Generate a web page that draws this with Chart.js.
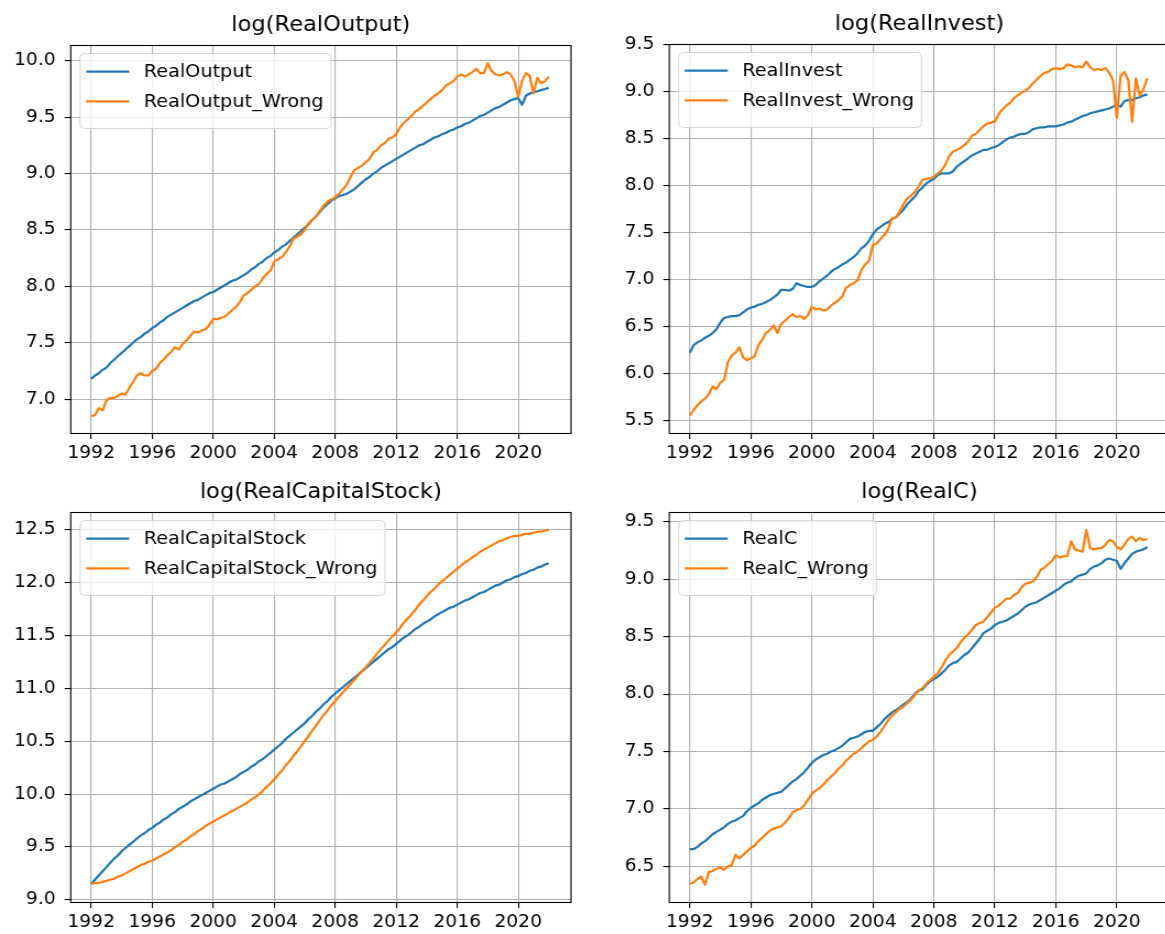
<!DOCTYPE html>
<html><head><meta charset="utf-8">
<script src="https://cdn.jsdelivr.net/npm/chart.js@4.4.1/dist/chart.umd.min.js"></script>
<style>
html,body{margin:0;padding:0;background:#fff;overflow:hidden;width:1165px;height:934px;position:relative;}
.p{position:absolute;transform-origin:0 0;transform:scaleX(1.1);}
canvas{display:block;}
</style></head><body>
<div class="p" style="left:0;top:0"><canvas id="c1" width="537" height="467"></canvas></div>
<div class="p" style="left:590px;top:0"><canvas id="c2" width="545" height="467"></canvas></div>
<div class="p" style="left:0;top:467px"><canvas id="c3" width="537" height="467"></canvas></div>
<div class="p" style="left:590px;top:467px"><canvas id="c4" width="545" height="467"></canvas></div>
<script>
// ---- data (quarterly, decimal years) ----
const dates = [
1992,1992.25,1992.5,1992.75,1993,1993.25,1993.5,1993.75,1994,1994.25,1994.5,1994.75,
1995,1995.25,1995.5,1995.75,1996,1996.25,1996.5,1996.75,1997,1997.25,1997.5,1997.75,
1998,1998.25,1998.5,1998.75,1999,1999.25,1999.5,1999.75,2000,2000.25,2000.5,2000.75,
2001,2001.25,2001.5,2001.75,2002,2002.25,2002.5,2002.75,2003,2003.25,2003.5,2003.75,
2004,2004.25,2004.5,2004.75,2005,2005.25,2005.5,2005.75,2006,2006.25,2006.5,2006.75,
2007,2007.25,2007.5,2007.75,2008,2008.25,2008.5,2008.75,2009,2009.25,2009.5,2009.75,
2010,2010.25,2010.5,2010.75,2011,2011.25,2011.5,2011.75,2012,2012.25,2012.5,2012.75,
2013,2013.25,2013.5,2013.75,2014,2014.25,2014.5,2014.75,2015,2015.25,2015.5,2015.75,
2016,2016.25,2016.5,2016.75,2017,2017.25,2017.5,2017.75,2018,2018.25,2018.5,2018.75,
2019,2019.25,2019.5,2019.75,2020,2020.25,2020.5,2020.75,2021,2021.25,2021.5,2021.75,
2022];

const realOutput = [
7.18,7.21,7.23,7.26, 7.28,7.32,7.35,7.38, 7.41,7.44,7.47,7.50, 7.53,7.55,7.58,7.60,
7.63,7.65,7.68,7.70, 7.73,7.75,7.77,7.79, 7.81,7.83,7.85,7.87, 7.88,7.90,7.92,7.94,
7.95,7.97,7.99,8.01, 8.03,8.05,8.06,8.08, 8.10,8.12,8.15,8.17, 8.20,8.22,8.25,8.27,
8.30,8.32,8.35,8.37, 8.40,8.43,8.46,8.49, 8.52,8.55,8.59,8.62, 8.66,8.70,8.73,8.76,
8.78,8.80,8.81,8.82, 8.84,8.86,8.89,8.92, 8.95,8.97,9.00,9.02, 9.05,9.07,9.09,9.11,
9.13,9.15,9.17,9.19, 9.21,9.23,9.25,9.26, 9.28,9.30,9.32,9.33, 9.35,9.36,9.38,9.39,
9.41,9.42,9.44,9.45, 9.47,9.49,9.51,9.52, 9.54,9.56,9.58,9.59, 9.61,9.63,9.65,9.66,
9.67,9.61,9.69,9.71, 9.72,9.73,9.74,9.75, 9.76];
const realOutputWrong = [
6.85,6.86,6.92,6.90, 6.99,7.01,7.01,7.03, 7.05,7.04,7.10,7.15, 7.21,7.23,7.21,7.21,
7.25,7.27,7.32,7.35, 7.39,7.42,7.46,7.44, 7.49,7.52,7.56,7.60, 7.59,7.61,7.62,7.66,
7.71,7.71,7.72,7.73, 7.76,7.79,7.82,7.86, 7.92,7.94,7.97,8.00, 8.02,8.07,8.11,8.14,
8.22,8.24,8.26,8.30, 8.35,8.42,8.44,8.46, 8.50,8.56,8.59,8.62, 8.67,8.72,8.75,8.77,
8.79,8.82,8.86,8.90, 8.97,9.03,9.05,9.07, 9.10,9.13,9.19,9.21, 9.25,9.27,9.31,9.32,
9.35,9.41,9.45,9.48, 9.51,9.55,9.57,9.60, 9.63,9.66,9.69,9.71, 9.74,9.78,9.80,9.82,
9.86,9.88,9.86,9.88, 9.90,9.93,9.89,9.89, 9.98,9.91,9.88,9.87, 9.88,9.90,9.88,9.82,
9.68,9.82,9.89,9.87, 9.71,9.85,9.80,9.82, 9.86];

const realInvest = [
6.22,6.30,6.33,6.35, 6.38,6.40,6.43,6.47, 6.54,6.59,6.60,6.61, 6.61,6.62,6.65,6.68,
6.70,6.71,6.73,6.74, 6.76,6.78,6.81,6.84, 6.89,6.89,6.88,6.90, 6.96,6.94,6.93,6.92,
6.92,6.94,6.98,7.01, 7.04,7.08,7.11,7.13, 7.16,7.18,7.21,7.24, 7.28,7.33,7.36,7.41,
7.48,7.53,7.56,7.59, 7.61,7.64,7.66,7.70, 7.74,7.80,7.84,7.88, 7.94,7.98,8.02,8.05,
8.07,8.11,8.13,8.13, 8.13,8.15,8.20,8.23, 8.26,8.29,8.32,8.34, 8.36,8.38,8.38,8.40,
8.41,8.43,8.46,8.49, 8.51,8.52,8.54,8.55, 8.55,8.57,8.60,8.61, 8.62,8.62,8.63,8.63,
8.63,8.64,8.65,8.67, 8.68,8.70,8.72,8.74, 8.75,8.77,8.78,8.79, 8.80,8.81,8.82,8.84,
8.86,8.84,8.90,8.91, 8.91,8.93,8.94,8.96, 8.97];
const realInvestWrong = [
5.55,5.61,5.66,5.70, 5.73,5.78,5.86,5.83, 5.90,5.93,6.12,6.19, 6.22,6.28,6.17,6.14,
6.16,6.18,6.30,6.36, 6.43,6.46,6.51,6.43, 6.53,6.56,6.60,6.63, 6.60,6.61,6.58,6.62,
6.71,6.68,6.69,6.67, 6.68,6.72,6.75,6.78, 6.82,6.91,6.94,6.96, 6.99,7.10,7.16,7.20,
7.37,7.38,7.43,7.47, 7.53,7.65,7.66,7.72, 7.80,7.86,7.89,7.93, 7.99,8.06,8.07,8.08,
8.09,8.13,8.16,8.22, 8.31,8.36,8.38,8.40, 8.43,8.47,8.53,8.55, 8.59,8.63,8.66,8.67,
8.68,8.76,8.81,8.85, 8.88,8.93,8.96,8.99, 9.01,9.04,9.09,9.13, 9.17,9.20,9.21,9.24,
9.25,9.24,9.25,9.29, 9.28,9.26,9.27,9.26, 9.32,9.26,9.23,9.24, 9.23,9.25,9.20,9.12,
8.72,9.17,9.21,9.12, 8.68,9.14,8.96,9.03, 9.14];

const realCapitalStock = [
9.15,9.19,9.23,9.27, 9.31,9.35,9.39,9.42, 9.46,9.49,9.52,9.55, 9.58,9.61,9.63,9.66,
9.68,9.71,9.73,9.76, 9.78,9.81,9.83,9.86, 9.88,9.90,9.93,9.95, 9.97,9.99,10.01,10.03,
10.05,10.07,10.09,10.10, 10.12,10.14,10.16,10.19, 10.21,10.23,10.26,10.28, 10.31,10.33,10.36,10.39,
10.42,10.45,10.48,10.52, 10.55,10.58,10.61,10.64, 10.67,10.71,10.74,10.78, 10.81,10.85,10.88,10.92,
10.95,10.98,11.01,11.04, 11.07,11.10,11.13,11.16, 11.19,11.22,11.25,11.28, 11.31,11.34,11.37,11.39,
11.42,11.45,11.48,11.50, 11.53,11.56,11.58,11.61, 11.63,11.65,11.68,11.70, 11.72,11.74,11.76,11.77,
11.79,11.81,11.83,11.84, 11.86,11.88,11.90,11.91, 11.93,11.95,11.97,11.98, 12.00,12.02,12.03,12.05,
12.06,12.08,12.09,12.11, 12.12,12.14,12.15,12.17, 12.18];
const realCapitalStockWrong = [
9.15,9.16,9.16,9.17, 9.18,9.19,9.20,9.22, 9.23,9.25,9.27,9.29, 9.31,9.33,9.34,9.36,
9.37,9.39,9.41,9.43, 9.45,9.47,9.50,9.52, 9.55,9.57,9.60,9.62, 9.65,9.67,9.70,9.72,
9.74,9.76,9.78,9.80, 9.82,9.84,9.86,9.88, 9.90,9.92,9.95,9.97, 10.00,10.03,10.07,10.10,
10.14,10.18,10.22,10.27, 10.31,10.36,10.40,10.45, 10.50,10.55,10.60,10.65, 10.70,10.75,10.79,10.84,
10.88,10.92,10.96,11.00, 11.04,11.08,11.12,11.16, 11.20,11.24,11.28,11.33, 11.37,11.41,11.45,11.49,
11.53,11.57,11.62,11.66, 11.70,11.74,11.79,11.83, 11.87,11.91,11.94,11.98, 12.01,12.04,12.07,12.10,
12.13,12.16,12.19,12.21, 12.24,12.26,12.29,12.31, 12.33,12.35,12.37,12.39, 12.40,12.42,12.43,12.44,
12.44,12.45,12.46,12.46, 12.47,12.48,12.48,12.49, 12.50];

const realC = [
6.65,6.65,6.67,6.70, 6.72,6.75,6.78,6.80, 6.82,6.84,6.87,6.89, 6.90,6.92,6.94,6.98,
7.01,7.03,7.05,7.08, 7.10,7.12,7.13,7.14, 7.15,7.18,7.21,7.24, 7.26,7.29,7.32,7.36,
7.40,7.43,7.45,7.47, 7.48,7.50,7.51,7.53, 7.55,7.58,7.61,7.62, 7.63,7.65,7.67,7.68,
7.68,7.71,7.74,7.78, 7.81,7.84,7.86,7.88, 7.91,7.93,7.96,8.00, 8.03,8.04,8.08,8.11,
8.13,8.15,8.18,8.21, 8.25,8.27,8.28,8.31, 8.34,8.36,8.40,8.44, 8.48,8.53,8.55,8.57,
8.60,8.62,8.63,8.64, 8.66,8.68,8.70,8.73, 8.76,8.78,8.79,8.80, 8.82,8.84,8.86,8.88,
8.90,8.92,8.95,8.97, 8.98,9.01,9.03,9.04, 9.05,9.09,9.11,9.12, 9.14,9.17,9.18,9.17,
9.16,9.09,9.14,9.18, 9.22,9.24,9.25,9.26, 9.28];
const realCWrong = [
6.35,6.36,6.39,6.41, 6.34,6.45,6.46,6.48, 6.49,6.47,6.50,6.51, 6.60,6.57,6.60,6.63,
6.66,6.68,6.72,6.75, 6.78,6.81,6.83,6.84, 6.85,6.88,6.92,6.97, 6.99,7.00,7.03,7.08,
7.13,7.16,7.18,7.21, 7.25,7.28,7.31,7.35, 7.38,7.42,7.45,7.48, 7.50,7.53,7.56,7.59,
7.60,7.63,7.67,7.72, 7.77,7.81,7.84,7.87, 7.89,7.92,7.95,7.99, 8.03,8.05,8.09,8.12,
8.15,8.18,8.23,8.29, 8.34,8.37,8.40,8.45, 8.49,8.52,8.56,8.60, 8.62,8.63,8.67,8.71,
8.75,8.77,8.80,8.83, 8.83,8.86,8.88,8.93, 8.96,8.97,8.98,9.02, 9.08,9.10,9.13,9.16,
9.21,9.19,9.20,9.20, 9.33,9.26,9.25,9.24, 9.43,9.27,9.26,9.27, 9.27,9.30,9.34,9.33,
9.28,9.26,9.30,9.35, 9.37,9.33,9.36,9.34, 9.35];

const xTickValues = [1992,1996,2000,2004,2008,2012,2016,2020];
const yTicks1 = [7.0,7.5,8.0,8.5,9.0,9.5,10.0];
const yTicks2 = [5.5,6.0,6.5,7.0,7.5,8.0,8.5,9.0,9.5];
const yTicks3 = [9.0,9.5,10.0,10.5,11.0,11.5,12.0,12.5];
const yTicks4 = [6.5,7.0,7.5,8.0,8.5,9.0,9.5];

// ---- styling ----
const S = 1.1;   // horizontal stretch of the reference picture (applied via CSS)
const BLUE = '#1f77b4', ORANGE = '#ff7f0e';
const FONT = "'DejaVu Sans', sans-serif";
const X_MIN = 1990.66, X_MAX = 2023.46;

const mplPlugin = {
  id: 'mpl',
  afterDatasetsDraw(chart) {
    const {ctx, chartArea: a} = chart;
    ctx.save();
    ctx.strokeStyle = '#000';
    ctx.lineWidth = 1.1;
    ctx.strokeRect(a.left, Math.round(a.top) + 0.5, a.right - a.left, Math.round(a.bottom - a.top));
    ctx.restore();
  },
  afterDraw(chart) {
    const {ctx, chartArea: a} = chart;
    const o = chart.options.plugins.mpl;
    ctx.save();
    // title
    ctx.fillStyle = '#000';
    ctx.font = '20.5px ' + FONT;
    ctx.textAlign = 'center';
    ctx.textBaseline = 'alphabetic';
    ctx.fillText(o.title, (a.left + a.right) / 2, a.top - 14);
    // legend
    const ds = chart.data.datasets;
    ctx.font = '17.5px ' + FONT;
    const tw = Math.max(...ds.map(d => ctx.measureText(d.label).width));
    const bx = a.left + 9.5 / S, by = a.top + 8.5;
    const bw = (73 - 9.5 + 7.5) / S + tw, bh = 75;
    ctx.beginPath();
    ctx.roundRect(bx, by, bw, bh, 4);
    ctx.fillStyle = 'rgba(255,255,255,0.8)';
    ctx.fill();
    ctx.strokeStyle = 'rgba(204,204,204,0.8)';
    ctx.lineWidth = 1;
    ctx.stroke();
    ds.forEach((d, i) => {
      const y = a.top + 26.6 + i * 29.7;
      ctx.beginPath();
      ctx.moveTo(a.left + 15.5 / S, y);
      ctx.lineTo(a.left + 58.5 / S, y);
      ctx.strokeStyle = d.borderColor;
      ctx.lineWidth = 2.2;
      ctx.stroke();
      ctx.fillStyle = '#000';
      ctx.textAlign = 'left';
      ctx.textBaseline = 'middle';
      ctx.fillText(d.label, a.left + 73 / S, y + 1);
    });
    ctx.restore();
  }
};

function series(values) { return dates.map((d, i) => ({x: d, y: values[i]})); }

function makeChart(id, title, names, s1, s2, yMin, yMax, yTicks, g) {
  const tickFont = {family: FONT, size: 17};
  const canvas = document.getElementById(id);
  const axLeft = g.left / S, axRight = g.right / S;
  new Chart(canvas, {
    type: 'line',
    data: {datasets: [
      {label: names[0], data: series(s1), borderColor: BLUE, order: 1},
      {label: names[1], data: series(s2), borderColor: ORANGE, order: 0}
    ]},
    options: {
      responsive: false, animation: false, devicePixelRatio: 1,
      parsing: false, normalized: true,
      elements: {
        line: {borderWidth: 2.2, tension: 0, fill: false, borderJoinStyle: 'round', borderCapStyle: 'butt'},
        point: {radius: 0, hoverRadius: 0}
      },
      layout: {padding: {top: g.top, left: 0, right: canvas.width - axRight, bottom: 0}},
      events: [],
      plugins: {
        legend: {display: false}, tooltip: {enabled: false}, title: {display: false},
        mpl: {title: title}
      },
      scales: {
        x: {
          type: 'linear', min: X_MIN, max: X_MAX,
          afterBuildTicks: s => { s.ticks = xTickValues.map(v => ({value: v})); },
          afterFit: s => { s.height = g.xh; },
          ticks: {font: tickFont, color: '#000', padding: 4, autoSkip: false, maxRotation: 0,
                  callback: v => String(v)},
          grid: {color: '#b0b0b0', lineWidth: 1.1, tickColor: '#000', tickLength: 6, tickWidth: 1.1},
          border: {display: false}
        },
        y: {
          type: 'linear', min: yMin, max: yMax,
          afterBuildTicks: s => { s.ticks = yTicks.map(v => ({value: v})); },
          afterFit: s => { s.width = axLeft; },
          ticks: {font: tickFont, color: '#000', padding: 9 / S, autoSkip: false,
                  callback: v => Number(v).toFixed(1)},
          grid: {color: '#b0b0b0', lineWidth: 1.1, tickColor: '#000', tickLength: 6 / S, tickWidth: 1.1},
          border: {display: false}
        }
      }
    },
    plugins: [mplPlugin]
  });
}

// g.left / g.right: axes edges in page pixels relative to the panel's left edge
makeChart('c1', 'log(RealOutput)', ['RealOutput', 'RealOutput_Wrong'],
  realOutput, realOutputWrong, 6.70, 10.14, yTicks1, {top: 45, left: 70.7, right: 571, xh: 34});
makeChart('c2', 'log(RealInvest)', ['RealInvest', 'RealInvest_Wrong'],
  realInvest, realInvestWrong, 5.365, 9.507, yTicks2, {top: 44, left: 79.3, right: 579.6, xh: 34});
makeChart('c3', 'log(RealCapitalStock)', ['RealCapitalStock', 'RealCapitalStock_Wrong'],
  realCapitalStock, realCapitalStockWrong, 8.98, 12.666, yTicks3, {top: 45, left: 70.7, right: 571, xh: 32});
makeChart('c4', 'log(RealC)', ['RealC', 'RealC_Wrong'],
  realC, realCWrong, 6.19, 9.585, yTicks4, {top: 45, left: 79.3, right: 579.6, xh: 32});
</script>
</body></html>
